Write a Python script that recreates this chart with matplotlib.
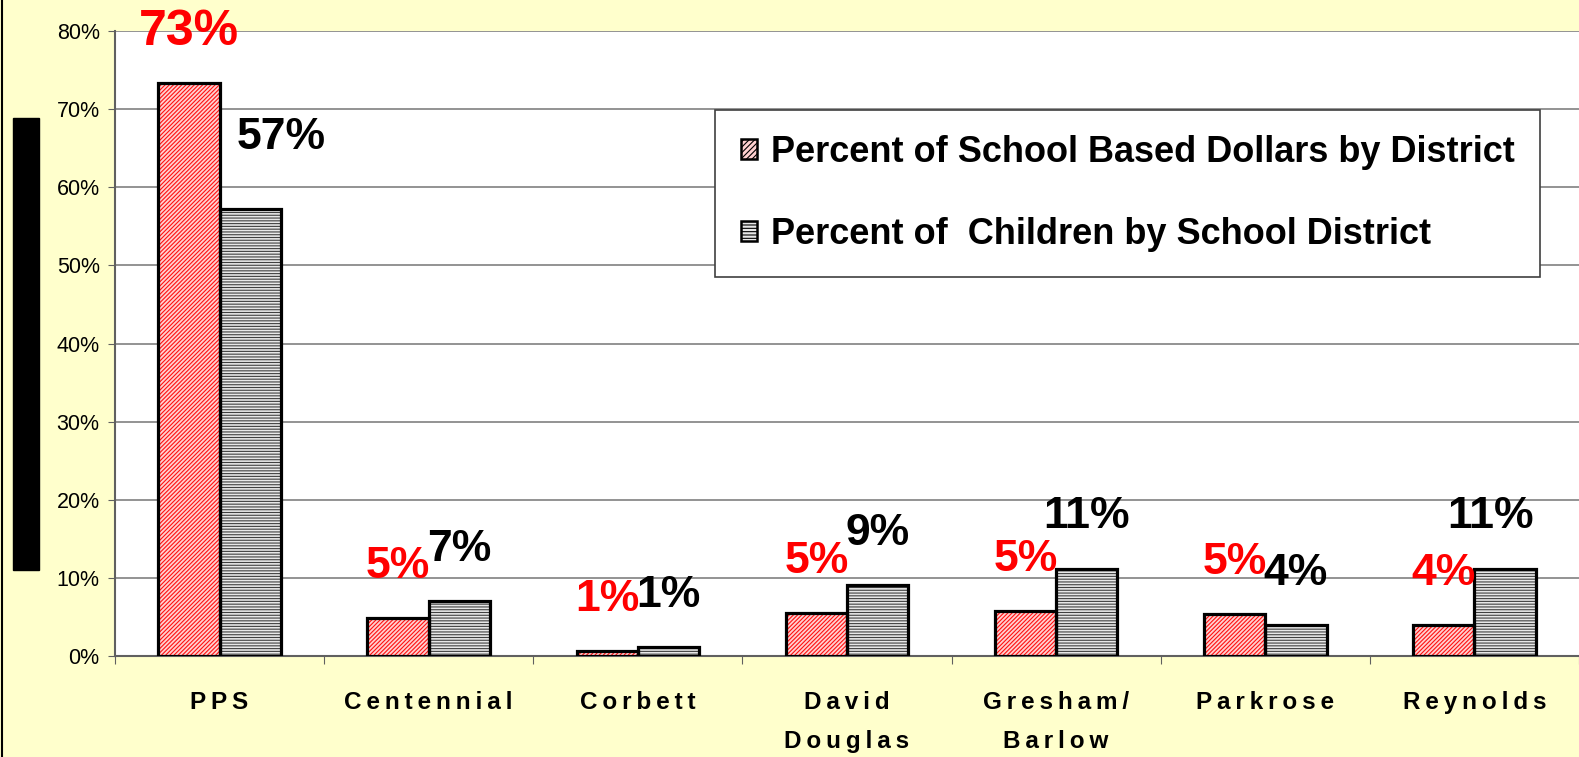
import numpy as np
import matplotlib.pyplot as plt
from matplotlib.patches import Patch, Rectangle
from matplotlib.lines import Line2D

plt.rcParams['font.family'] = ['Liberation Sans', 'DejaVu Sans']
plt.rcParams['hatch.linewidth'] = 0.8

districts = ["PPS", "Centennial", "Corbett", "David\nDouglas", "Gresham/\nBarlow",
             "Parkrose", "Reynolds"]
dollars_pct = [73.3, 4.9, 0.6, 5.5, 5.8, 5.4, 4.0]
children_pct = [57.2, 7.0, 1.1, 9.1, 11.2, 4.0, 11.2]
dollars_lbl = ["73%", "5%", "1%", "5%", "5%", "5%", "4%"]
children_lbl = ["57%", "7%", "1%", "9%", "11%", "4%", "11%"]
series_names = ["Percent of School Based Dollars by District",
                "Percent of  Children by School District"]

BG = "#FFFFCC"


def spaced(s):
    # Excel-style letter spacing on the category labels
    return "\n".join("\u2009".join(line) for line in s.split("\n"))


fig = plt.figure(figsize=(15.79, 7.57), dpi=100, facecolor=BG)
ax = fig.add_axes([115 / 1579, 1 - 656 / 757, 1 - 115 / 1579, 625 / 757])
ax.set_facecolor("white")

x = np.arange(len(districts))
w = 0.293

# fill + hatch first, then black outline on top
ax.bar(x - w / 2, dollars_pct, w, color="#FFD0D0", edgecolor="#FF1010",
       hatch="////////", linewidth=0, zorder=3)
ax.bar(x + w / 2, children_pct, w, color="#E8E8E8", edgecolor="#404040",
       hatch="------", linewidth=0, zorder=3)
ax.bar(x - w / 2, dollars_pct, w, fill=False, edgecolor="black", linewidth=2.3, zorder=4)
ax.bar(x + w / 2, children_pct, w, fill=False, edgecolor="black", linewidth=2.3, zorder=4)

for i in range(len(districts)):
    fs = 36 if i == 0 else 32
    ax.text(x[i] - w / 2, dollars_pct[i] + 6.6, dollars_lbl[i], color="red",
            fontsize=fs, fontweight="bold", ha="center", va="center", zorder=5)
    dx = 0.15 if i == 0 else (-0.07 if i == 6 else 0)
    dy = 9.2 if i == 0 else 6.6
    ax.text(x[i] + w / 2 + dx, children_pct[i] + dy, children_lbl[i], color="black",
            fontsize=32, fontweight="bold", ha="center", va="center", zorder=5)

ax.set_xlim(-0.5, -0.5 + 1464 / 209.5)
ax.set_ylim(0, 80)
ax.set_yticks(np.arange(0, 81, 10))
ax.set_yticklabels([f"{v}%" for v in range(0, 81, 10)], fontsize=15.5)
ax.yaxis.grid(True, color="#808080", linewidth=1.2, zorder=0)
ax.set_axisbelow(True)

ax.set_xticks(np.arange(-0.5, 7, 1))
ax.set_xticklabels([])
ax.set_xticks(x, minor=True)
ax.set_xticklabels([spaced(d) for d in districts], minor=True, fontsize=17.5,
                   fontweight="bold", va="top", linespacing=1.9)
ax.tick_params(axis="x", which="minor", length=0, pad=25)
ax.tick_params(axis="x", which="major", length=6, direction="out", color="#606060")
ax.tick_params(axis="y", length=5, color="#606060", pad=6)

for s in ["top", "right"]:
    ax.spines[s].set_visible(False)
ax.spines["left"].set_color("#606060")
ax.spines["left"].set_linewidth(1.5)
ax.spines["bottom"].set_color("#606060")
ax.spines["bottom"].set_linewidth(1.5)

handles = [Patch(facecolor="#FFD0D0", edgecolor="black", hatch="//////", linewidth=1.8),
           Patch(facecolor="#E8E8E8", edgecolor="black", hatch="-----", linewidth=1.8)]
leg = ax.legend(handles, series_names, loc="upper left", bbox_to_anchor=(0.41, 0.874),
                prop={"weight": "bold", "size": 26}, frameon=True,
                fancybox=False, edgecolor="#404040", framealpha=1, labelspacing=1.3,
                borderpad=0.7, handlelength=0.45, handleheight=0.45, handletextpad=0.4,
                borderaxespad=0)
leg.get_frame().set_linewidth(1.2)

# black bar and border on the left side of the slide
fig.add_artist(Rectangle((13 / 1579, 1 - 570 / 757), 26 / 1579, 452 / 757,
                         transform=fig.transFigure, color="black"))
fig.add_artist(Line2D([0.001, 0.001], [0, 1], transform=fig.transFigure,
                      color="black", linewidth=1.5))

fig.savefig("out.png", dpi=100, facecolor=BG)
